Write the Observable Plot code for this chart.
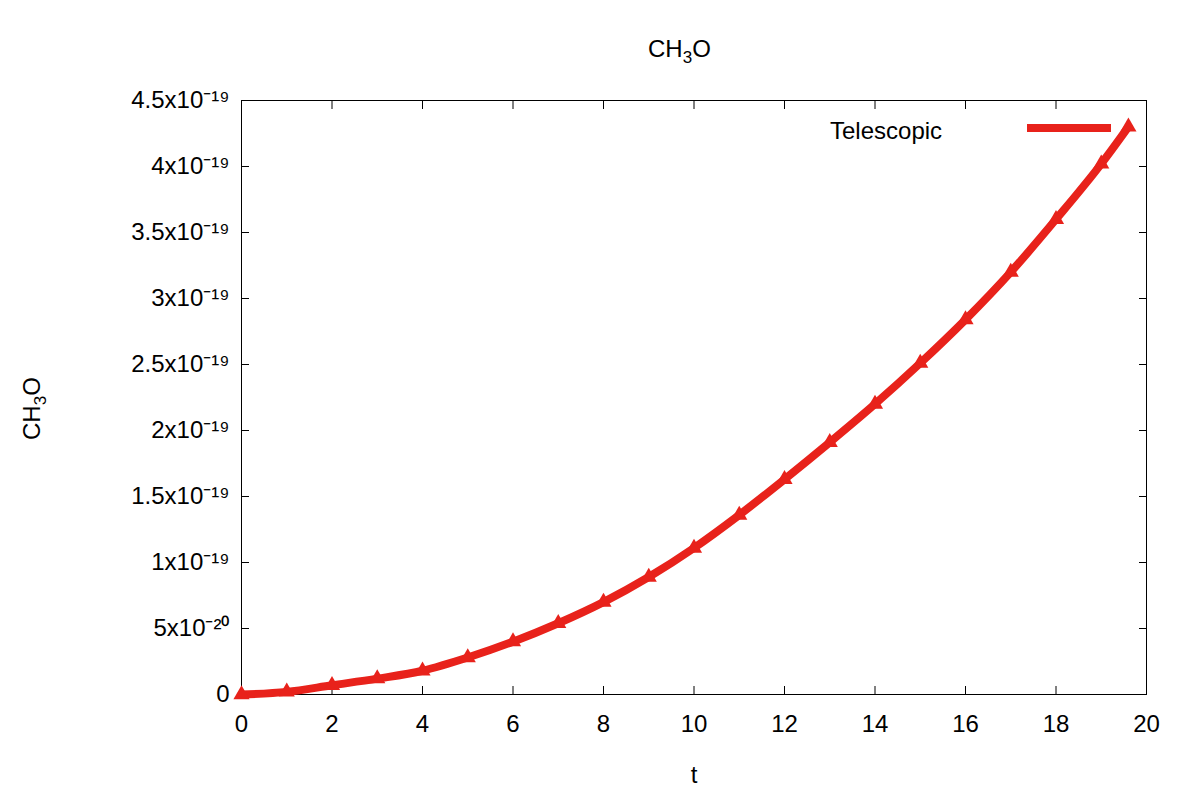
<!DOCTYPE html>
<html><head><meta charset="utf-8">
<script src="https://cdn.jsdelivr.net/npm/d3@7"></script>
<script src="https://cdn.jsdelivr.net/npm/@observablehq/plot@0.6"></script>
<style>
body{margin:0;background:#fff;font-family:"Liberation Sans",Arial,sans-serif}
#wrap{position:relative;width:1200px;height:800px}
.lg{position:absolute;font-size:24px}
</style></head><body>
<div id="wrap"><div id="chart"></div>
<div class="lg" style="left:648px;top:35px">CH<sub style="font-size:17px">3</sub>O</div>
<div class="lg" style="left:830px;top:117px">Telescopic</div>
<div style="position:absolute;left:1027px;top:124px;width:84px;height:8px;background:#e8221b"></div>
</div>
<script>
const times = [0, 1, 2, 3, 4, 5, 6, 7, 8, 9, 10, 11, 12, 13, 14, 15, 16, 17, 18, 19, 19.6];
const values = [0, 0.2e-20, 0.7e-20, 1.2e-20, 1.8e-20, 2.8e-20, 4.0e-20, 5.4e-20, 7.0e-20, 8.9e-20, 1.11e-19, 1.36e-19, 1.63e-19, 1.91e-19, 2.2e-19, 2.51e-19, 2.84e-19, 3.2e-19, 3.6e-19, 4.02e-19, 4.3e-19];
const yTicks = [0, 5e-20, 1e-19, 1.5e-19, 2e-19, 2.5e-19, 3e-19, 3.5e-19, 4e-19, 4.5e-19];
const yLabels = ["0", "5x10⁻²⁰", "1x10⁻¹⁹", "1.5x10⁻¹⁹", "2x10⁻¹⁹", "2.5x10⁻¹⁹", "3x10⁻¹⁹", "3.5x10⁻¹⁹", "4x10⁻¹⁹", "4.5x10⁻¹⁹"];
const data = times.map((t, i) => ({t, v: values[i]}));
const red = "#e8221b";
const chart = Plot.plot({
  width: 1200, height: 800,
  marginLeft: 241, marginRight: 54, marginTop: 100, marginBottom: 106,
  style: {fontSize: "24px", fontFamily: "Liberation Sans, Arial, sans-serif", color: "#000"},
  x: {domain: [0, 20], ticks: d3.range(0, 21, 2)},
  y: {domain: [0, 4.5e-19]},
  marks: [
    Plot.frame({stroke: "#000"}),
    Plot.axisX({ticks: d3.range(0, 21, 2), tickSize: -8, tickPadding: 28, label: "t", labelAnchor: "center", labelArrow: "none", labelOffset: 88}),
    Plot.axisX({anchor: "top", ticks: d3.range(0, 21, 2), tickSize: -8, tickFormat: () => "", label: null}),
    Plot.axisY({ticks: yTicks, tickSize: -8, tickPadding: 20, tickFormat: (d, i) => yLabels[i], label: null}),
    Plot.axisY({anchor: "right", ticks: yTicks, tickSize: -8, tickFormat: () => "", label: null}),
    Plot.line(data, {x: "t", y: "v", stroke: red, strokeWidth: 8, curve: "monotone-x"}),
    Plot.dot(data, {x: "t", y: "v", fill: red, r: 6, symbol: "triangle"})
  ]
});
d3.select("#chart").append(() => chart);
d3.select("#wrap").append("div").attr("class", "lg")
  .style("left", "18px").style("top", "440px").style("transform", "rotate(-90deg)").style("transform-origin", "left top")
  .html('CH<sub style="font-size:17px">3</sub>O');
</script>
</body></html>
